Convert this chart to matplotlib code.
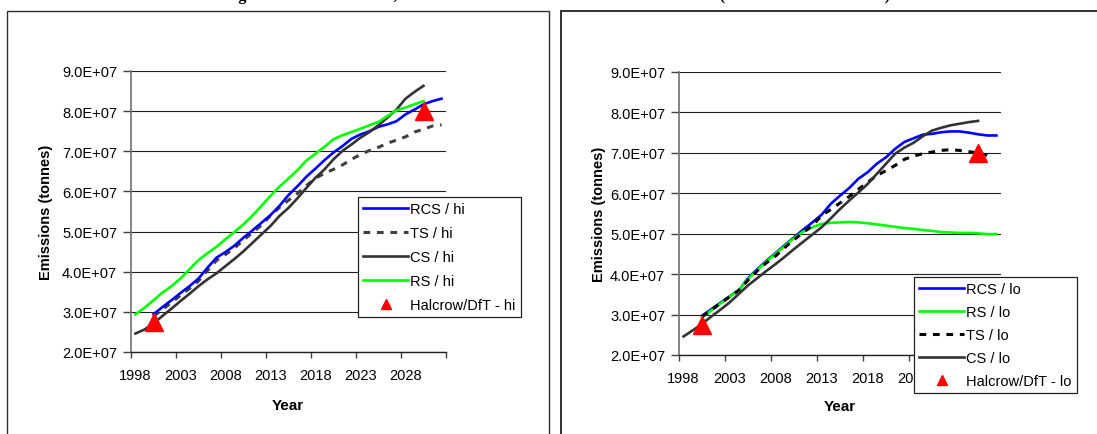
import matplotlib
matplotlib.use("Agg")
import matplotlib.pyplot as plt
from matplotlib.patches import Rectangle
from matplotlib.ticker import FixedLocator, FuncFormatter

plt.rcParams['font.family'] = ['Liberation Sans', 'DejaVu Sans']

# ---------------- data (values in 1e7 tonnes) ----------------
hi_rcs_years = list(range(2000, 2033))
hi_rcs = [2.94, 3.12, 3.29, 3.47, 3.64, 3.83, 4.10, 4.35, 4.49, 4.65, 4.85, 5.03,
          5.22, 5.41, 5.64, 5.91, 6.13, 6.37, 6.57, 6.78, 6.97, 7.13, 7.31, 7.42,
          7.50, 7.61, 7.67, 7.75, 7.92, 8.04, 8.17, 8.25, 8.31]
hi_ts_years = list(range(2000, 2033))
hi_ts = [2.89, 3.06, 3.23, 3.41, 3.58, 3.77, 4.03, 4.28, 4.43, 4.59, 4.79, 4.97,
         5.16, 5.40, 5.60, 5.78, 5.95, 6.15, 6.33, 6.45, 6.55, 6.66, 6.80, 6.92,
         7.02, 7.10, 7.20, 7.28, 7.36, 7.48, 7.55, 7.63, 7.66]
hi_cs_years = list(range(1998, 2031))
hi_cs = [2.46, 2.56, 2.71, 2.90, 3.08, 3.27, 3.45, 3.64, 3.81, 3.96, 4.14, 4.32,
         4.51, 4.72, 4.93, 5.14, 5.39, 5.59, 5.83, 6.09, 6.34, 6.55, 6.80, 7.01,
         7.17, 7.34, 7.48, 7.65, 7.84, 8.04, 8.31, 8.48, 8.63]
hi_rs_years = list(range(1998, 2031))
hi_rs = [2.94, 3.10, 3.29, 3.48, 3.64, 3.83, 4.06, 4.29, 4.46, 4.62, 4.81, 4.99,
         5.18, 5.40, 5.64, 5.89, 6.12, 6.32, 6.53, 6.77, 6.94, 7.11, 7.30, 7.40,
         7.48, 7.56, 7.65, 7.73, 7.88, 8.02, 8.09, 8.17, 8.25]
hi_halcrow_years = [2000, 2030]
hi_halcrow = [2.75, 8.00]

lo_rcs_years = list(range(2000, 2033))
lo_rcs = [2.97, 3.13, 3.29, 3.45, 3.60, 3.90, 4.12, 4.33, 4.52, 4.72, 4.91, 5.10,
          5.28, 5.47, 5.74, 5.94, 6.13, 6.36, 6.52, 6.73, 6.89, 7.10, 7.27, 7.36,
          7.45, 7.47, 7.51, 7.53, 7.53, 7.50, 7.46, 7.43, 7.43]
lo_rs_years = list(range(2000, 2033))
lo_rs = [2.93, 3.10, 3.27, 3.44, 3.60, 3.88, 4.10, 4.31, 4.50, 4.70, 4.89, 5.05,
         5.16, 5.24, 5.27, 5.28, 5.29, 5.28, 5.26, 5.23, 5.20, 5.17, 5.14, 5.12,
         5.09, 5.07, 5.04, 5.03, 5.02, 5.02, 5.01, 4.99, 4.99]
lo_ts_years = list(range(2000, 2032))
lo_ts = [2.95, 3.11, 3.28, 3.44, 3.60, 3.85, 4.08, 4.28, 4.45, 4.66, 4.85, 5.03,
         5.20, 5.45, 5.60, 5.76, 5.92, 6.10, 6.27, 6.44, 6.56, 6.69, 6.84, 6.92,
         6.98, 7.02, 7.06, 7.08, 7.06, 7.03, 7.00, 6.94]
lo_cs_years = list(range(1998, 2031))
lo_cs = [2.46, 2.61, 2.77, 2.95, 3.12, 3.30, 3.51, 3.72, 3.90, 4.08, 4.25, 4.43,
         4.62, 4.80, 4.98, 5.16, 5.38, 5.61, 5.82, 6.02, 6.23, 6.48, 6.73, 6.98,
         7.13, 7.25, 7.41, 7.55, 7.62, 7.68, 7.72, 7.76, 7.79]
lo_halcrow_years = [2000, 2030]
lo_halcrow = [2.74, 7.00]

x_tick_labels = [1998, 2003, 2008, 2013, 2018, 2023, 2028]
y_ticks = [2.0, 3.0, 4.0, 5.0, 6.0, 7.0, 8.0, 9.0]

SCALE = 1e7
title_text = ("Figure 6: CO2 emissions, aviation emission forecasts from 2000 to 2030 "
              "(hi and lo demand cases)")

# ---------------- figure ----------------
W, H = 1097, 435
fig = plt.figure(figsize=(W / 100, H / 100), dpi=100)

def fx(px):
    return px / W

def fy(py):
    return 1 - py / H

# panel borders
fig.patches.append(Rectangle((fx(7), fy(460)), fx(549) - fx(7), fy(12) - fy(460),
                             transform=fig.transFigure, fill=False,
                             edgecolor='#303030', lw=1.0))
fig.patches.append(Rectangle((fx(561), fy(460)), fx(1120) - fx(561), fy(12) - fy(460),
                             transform=fig.transFigure, fill=False,
                             edgecolor='#303030', lw=1.4))

# title, mostly above the top edge (only descenders visible)
fig.text(fx(224), fy(-0.5), title_text, ha='left', va='baseline',
         fontsize=11.7, fontweight='bold',
         family=['Liberation Serif', 'DejaVu Serif'])

FS = 10.5

def setup_axes(ax):
    ax.set_xlim(1997.5, 2032.5)
    ax.set_ylim(2.0 * SCALE, 9.0 * SCALE)
    ax.set_yticks([v * SCALE for v in y_ticks])
    ax.yaxis.set_major_formatter(FuncFormatter(lambda v, p: f"{v:.1E}"))
    ax.set_xticks(x_tick_labels)
    ax.set_xticklabels([str(t) for t in x_tick_labels])
    ax.xaxis.set_minor_locator(FixedLocator([1997.5 + 5 * k for k in range(8)]))
    ax.tick_params(axis='x', which='major', length=0, pad=11.5, labelsize=FS)
    ax.tick_params(axis='x', which='minor', length=4, width=1, direction='out', color='#404040')
    ax.tick_params(axis='y', which='major', length=6, width=1, direction='out',
                   pad=4, labelsize=FS, color='#404040')
    ax.grid(axis='y', color='#202020', lw=0.8)
    ax.set_axisbelow(True)
    for s in ['top', 'right']:
        ax.spines[s].set_visible(False)
    ax.spines['left'].set_color('#707070')
    ax.spines['left'].set_linewidth(1.2)
    ax.spines['bottom'].set_color('#202020')
    ax.spines['bottom'].set_linewidth(1.0)
    ax.set_ylabel("Emissions (tonnes)", fontsize=FS, fontweight='bold')
    ax.set_xlabel("Year", fontsize=FS + 0.5, fontweight='bold')

def scaled(vals):
    return [v * SCALE for v in vals]

LW = 1.9
# ---------------- left: hi ----------------
ax1 = fig.add_axes([fx(131), fy(353), fx(446) - fx(131), fy(72) - fy(353)])
setup_axes(ax1)
ax1.plot(hi_rcs_years, scaled(hi_rcs), color='#0000FF', lw=LW, label='RCS / hi', zorder=3)
ax1.plot(hi_ts_years, scaled(hi_ts), color='#404040', lw=LW + 0.3, dashes=(2.2, 2.2),
         label='TS / hi', zorder=2.5)
ax1.plot(hi_cs_years, scaled(hi_cs), color='#333333', lw=LW, label='CS / hi', zorder=3.1)
ax1.plot(hi_rs_years, scaled(hi_rs), color='#00FF00', lw=LW, label='RS / hi', zorder=3.2)
ax1.plot(hi_halcrow_years, scaled(hi_halcrow), ls='none', marker='^', color='#FF0000',
         markersize=13, label='Halcrow/DfT - hi', clip_on=False, zorder=4)
ax1.yaxis.set_label_coords(-0.247, 0.5)
ax1.xaxis.set_label_coords(0.498, -0.165)

# ---------------- right: lo ----------------
ax2 = fig.add_axes([fx(679), fy(356), fx(1001) - fx(679), fy(73) - fy(356)])
setup_axes(ax2)
ax2.plot(lo_rcs_years, scaled(lo_rcs), color='#0000FF', lw=LW, label='RCS / lo')
ax2.plot(lo_rs_years, scaled(lo_rs), color='#00FF00', lw=LW, label='RS / lo')
ax2.plot(lo_ts_years, scaled(lo_ts), color='#000000', lw=LW + 0.3, dashes=(2.2, 2.2), label='TS / lo')
ax2.plot(lo_cs_years, scaled(lo_cs), color='#333333', lw=LW, label='CS / lo')
ax2.plot(lo_halcrow_years, scaled(lo_halcrow), ls='none', marker='^', color='#FF0000',
         markersize=13, label='Halcrow/DfT - lo', clip_on=False)
ax2.yaxis.set_label_coords(-0.227, 0.5)
ax2.xaxis.set_label_coords(0.5, -0.155)

def make_legend(ax, x0, y0, spacing):
    leg = ax.legend(loc='upper left', bbox_to_anchor=(fx(x0), fy(y0)),
                    bbox_transform=fig.transFigure, fontsize=FS, frameon=True,
                    fancybox=False, edgecolor='#202020', framealpha=1.0,
                    borderpad=0.35, labelspacing=spacing, handlelength=3.1,
                    handletextpad=0.15, borderaxespad=0.0, numpoints=1,
                    markerscale=0.6)
    leg.get_frame().set_linewidth(0.9)
    leg.set_zorder(10)
    return leg

make_legend(ax1, 358, 198, 0.69)
make_legend(ax2, 914, 278, 0.62)

fig.savefig("out.png", dpi=100)
